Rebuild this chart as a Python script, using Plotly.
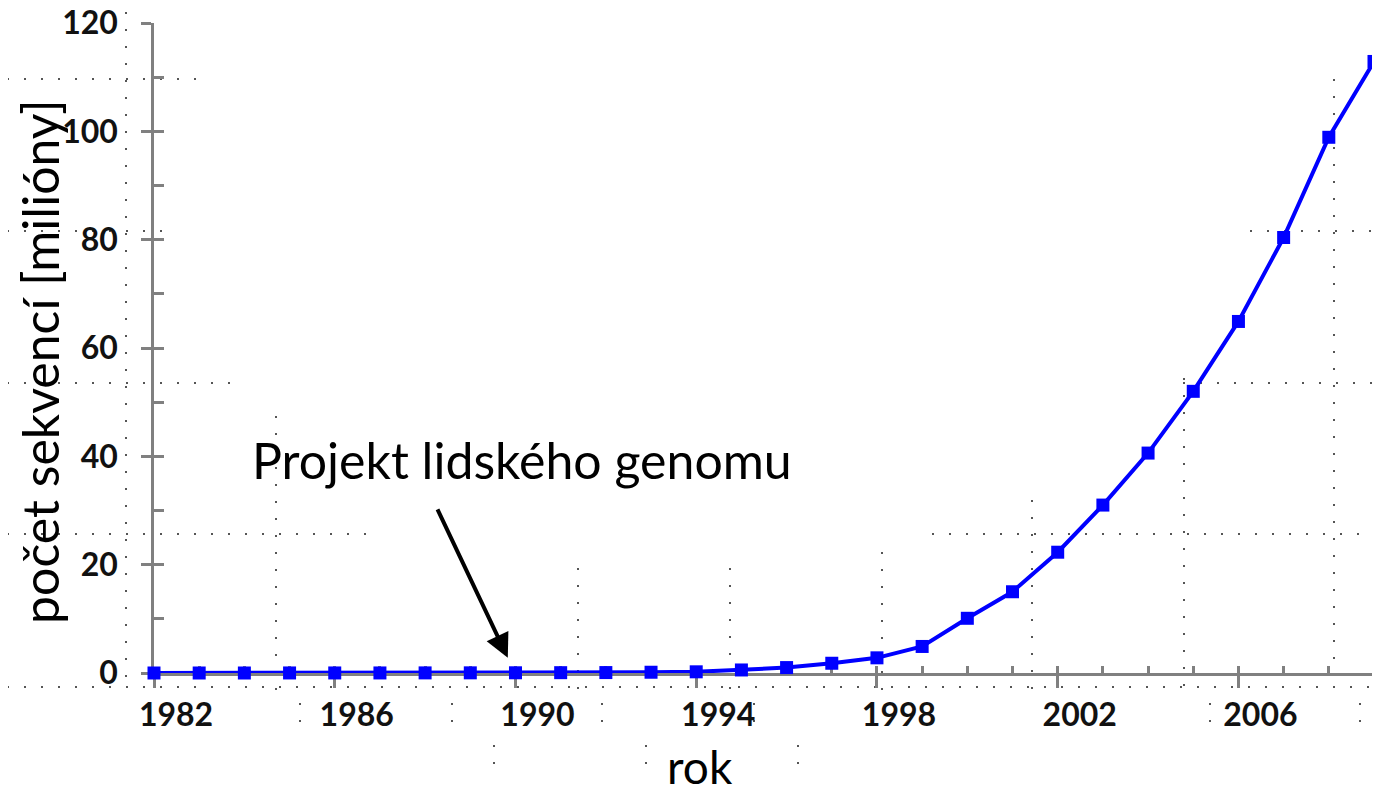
import plotly.graph_objects as go

# GenBank sequence counts per year (millions)
years = list(range(1982, 2010))
sequences = [0.0, 0.0, 0.0, 0.01, 0.01, 0.01, 0.02, 0.03, 0.04, 0.06, 0.08, 0.14,
             0.22, 0.56, 1.0, 1.8, 2.8, 4.9, 10.1, 15.0, 22.3, 31.0, 40.6, 52.0,
             64.9, 80.4, 98.9, 112.9]

x_tick_years = [1982, 1986, 1990, 1994, 1998, 2002, 2006]
y_ticks = [0, 20, 40, 60, 80, 100, 120]

# the page body has an 8px margin, so the figure is the window minus that
OFF = 8
W, H = 1380 - OFF, 793 - OFF
FONT = "Lato"


def px(x):
    # window pixel -> paper fraction
    return (x - OFF) / W


def py(y):
    return 1 - (y - OFF) / H


# background dotted grid (a pasted, partly erased grid in the original)
h_grid = [(79, 7, 210), (231, 7, 177), (231, 1250, 1380), (383, 7, 243),
          (383, 1183, 1380), (534, 7, 378), (534, 932, 1380), (687, 7, 1380)]
v_grid = [(126, 12, 690), (276, 416, 690), (578, 568, 690), (730, 568, 690),
          (882, 552, 690), (1032, 500, 690), (1184, 378, 690), (1334, 79, 690),
          (300, 703, 723), (452, 703, 723), (602, 703, 723), (754, 703, 723),
          (1210, 703, 723), (1360, 703, 723),
          (494, 745, 778), (646, 745, 778), (798, 745, 778)]

grid_line = dict(color="#555555", width=2, dash="2px,15px")
shapes = []
for y, x0, x1 in h_grid:
    shapes.append(dict(type="line", xref="paper", yref="paper", layer="below",
                       x0=px(x0), x1=px(x1), y0=py(y), y1=py(y), line=grid_line))
for x, y0, y1 in v_grid:
    shapes.append(dict(type="line", xref="paper", yref="paper", layer="below",
                       x0=px(x), x1=px(x), y0=py(y0), y1=py(y1), line=grid_line))

fig = go.Figure()

fig.add_trace(go.Scatter(
    x=years, y=sequences,
    mode="lines+markers",
    line=dict(color="#0000ff", width=4),
    marker=dict(symbol="square", size=13, color="#0000ff"),
    cliponaxis=False,
    showlegend=False,
    hoverinfo="x+y",
))

# empty helper trace so the minor-tick axes get drawn
fig.add_trace(go.Scatter(x=[], y=[], xaxis="x2", yaxis="y2", showlegend=False))

axis_gray = "#808080"
x_dom = [px(154), px(1374)]
y_dom = [py(673), py(23)]
tick_font = dict(family=FONT, size=32, color="#111111", weight="bold")

fig.update_layout(
    width=W, height=H,
    margin=dict(l=0, r=0, t=0, b=0, autoexpand=False),
    paper_bgcolor="white",
    plot_bgcolor="rgba(0,0,0,0)",
    shapes=shapes,
    xaxis=dict(
        domain=x_dom, range=[1982, 2009], automargin=False,
        layer="below traces",
        tickvals=x_tick_years, ticks="outside", ticklen=12, tickwidth=2.5,
        tickcolor=axis_gray, showline=True, linecolor=axis_gray, linewidth=2.5,
        showgrid=False, zeroline=False, tickfont=tick_font,
        ticklabelshift=22, ticklabelstandoff=0, ticklabeloverflow="allow",
    ),
    yaxis=dict(
        domain=y_dom, range=[0, 120], automargin=False,
        layer="below traces",
        tickvals=y_ticks, ticks="outside", ticklen=10, tickwidth=2.5,
        tickcolor=axis_gray, showline=True, linecolor=axis_gray, linewidth=2.5,
        showgrid=False, zeroline=False, tickfont=tick_font,
        ticklabelstandoff=17, ticklabeloverflow="allow",
    ),
    xaxis2=dict(
        domain=x_dom, range=[1982, 2009], overlaying="x", anchor="y",
        automargin=False, layer="below traces",
        dtick=1, tick0=1982, ticks="inside", ticklen=7, tickwidth=2.5,
        tickcolor=axis_gray, showticklabels=False, showgrid=False,
        zeroline=False, showline=False,
    ),
    yaxis2=dict(
        domain=y_dom, range=[0, 120], overlaying="y", anchor="x",
        automargin=False, layer="below traces",
        dtick=10, tick0=0, ticks="inside", ticklen=10, tickwidth=2.5,
        tickcolor=axis_gray, showticklabels=False, showgrid=False,
        zeroline=False, showline=False,
    ),
    annotations=[
        dict(text="Projekt lidského genomu", xref="paper", yref="paper",
             x=px(522), y=py(460), xanchor="center", yanchor="middle",
             showarrow=False, font=dict(family=FONT, size=50, color="black")),
        dict(text="", x=1989.83, y=2.8, xref="x", yref="y",
             ax=-71, ay=-150, showarrow=True, arrowhead=2, arrowsize=1.2,
             arrowwidth=4, arrowcolor="black", standoff=0),
        dict(text="rok", xref="paper", yref="paper", x=px(700), y=py(766),
             xanchor="center", yanchor="middle", showarrow=False,
             font=dict(family=FONT, size=46, color="black")),
        dict(text="počet sekvencí [milióny]", xref="paper", yref="paper",
             x=px(40), y=py(362), xanchor="center", yanchor="middle",
             textangle=-90, showarrow=False,
             font=dict(family=FONT, size=50, color="black")),
    ],
)

fig.write_html("out.html")
